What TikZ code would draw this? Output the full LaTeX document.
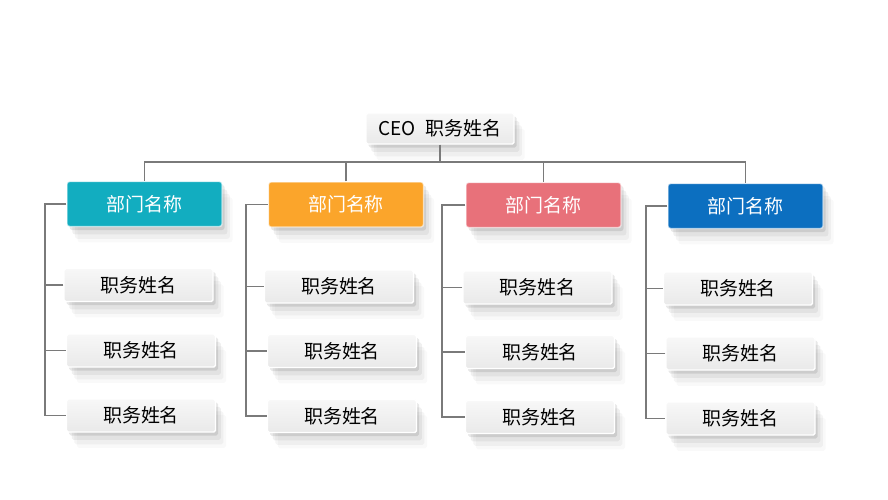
\documentclass[tikz,border=0pt]{standalone}
\usepackage{fontspec}
\newfontfamily\cjk{Noto Sans CJK SC}
\usepackage{tikz}
\usetikzlibrary{shadows}

\definecolor{teal1}{HTML}{12ADC0}
\definecolor{orange1}{HTML}{FBA52B}
\definecolor{red1}{HTML}{E8717A}
\definecolor{blue1}{HTML}{0C6FC0}
\definecolor{linegray}{HTML}{7A7A7A}

\begin{document}
\begin{tikzpicture}[
    softshadow/.style={
        drop shadow={shadow xshift=1.5pt, shadow yshift=-2pt, fill=black, opacity=0.09},
        drop shadow={shadow xshift=3pt, shadow yshift=-4.5pt, fill=black, opacity=0.06},
        drop shadow={shadow xshift=4.5pt, shadow yshift=-7pt, fill=black, opacity=0.04},
        drop shadow={shadow xshift=6pt, shadow yshift=-9pt, fill=black, opacity=0.025}},
    person/.style={rectangle, softshadow, rounded corners=1pt, draw=white, line width=0.8pt,
        top color=gray!6, bottom color=gray!17, minimum width=2.98cm, minimum height=0.66cm,
        inner sep=0pt, font=\cjk\fontsize{10.8}{12}\selectfont, text=black},
    dept/.style={rectangle, softshadow, rounded corners=1.5pt, draw=white, draw opacity=0.6,
        line width=0.8pt, minimum width=3.1cm, minimum height=0.9cm, inner sep=0pt,
        font=\cjk\fontsize{10.8}{12}\selectfont, text=white},
    link/.style={draw=linegray, line width=0.6pt}]
    \useasboundingbox (0,0) rectangle (17.76,-9.98);

    \node[person, minimum width=2.96cm, minimum height=0.62cm] (ceo) at (8.80,-2.57) {CEO\hspace{0.5em}职务姓名};

    \node[dept, fill=teal1] (d1) at (2.89,-4.08) {部门名称};
    \node[dept, fill=orange1] (d2) at (6.92,-4.09) {部门名称};
    \node[dept, fill=red1] (d3) at (10.87,-4.10) {部门名称};
    \node[dept, fill=blue1] (d4) at (14.91,-4.12) {部门名称};

    \node[person] (e11) at (2.77,-5.70) {职务姓名};
    \node[person] (e12) at (2.82,-7.01) {职务姓名};
    \node[person] (e13) at (2.82,-8.31) {职务姓名};
    \node[person] (e21) at (6.78,-5.73) {职务姓名};
    \node[person] (e22) at (6.84,-7.02) {职务姓名};
    \node[person] (e23) at (6.84,-8.32) {职务姓名};
    \node[person] (e31) at (10.75,-5.75) {职务姓名};
    \node[person] (e32) at (10.80,-7.04) {职务姓名};
    \node[person] (e33) at (10.80,-8.34) {职务姓名};
    \node[person] (e41) at (14.76,-5.77) {职务姓名};
    \node[person] (e42) at (14.81,-7.07) {职务姓名};
    \node[person] (e43) at (14.81,-8.37) {职务姓名};

    % bus
    \coordinate (bus) at (8.80,-3.24);
    \draw[link] (ceo.south) -- (bus);
    \draw[link] (d1.north) |- (bus) -| (d4.north);
    \draw[link] (d2.north) -- (d2.north |- bus);
    \draw[link] (d3.north) -- (d3.north |- bus);

    % brackets
    \coordinate (s1) at (0.90,-4.08);
    \coordinate (s2) at (4.92,-4.09);
    \coordinate (s3) at (8.84,-4.10);
    \coordinate (s4) at (12.92,-4.12);
    \draw[link] (d1.west) -- (s1) |- (e13.west);
    \draw[link] (d2.west) -- (s2) |- (e23.west);
    \draw[link] (d3.west) -- (s3) |- (e33.west);
    \draw[link] (d4.west) -- (s4) |- (e43.west);
    \draw[link] (e11.west) -- (e11.west -| s1);
    \draw[link] (e12.west) -- (e12.west -| s1);
    \draw[link] (e21.west) -- (e21.west -| s2);
    \draw[link] (e22.west) -- (e22.west -| s2);
    \draw[link] (e31.west) -- (e31.west -| s3);
    \draw[link] (e32.west) -- (e32.west -| s3);
    \draw[link] (e41.west) -- (e41.west -| s4);
    \draw[link] (e42.west) -- (e42.west -| s4);
\end{tikzpicture}
\end{document}
